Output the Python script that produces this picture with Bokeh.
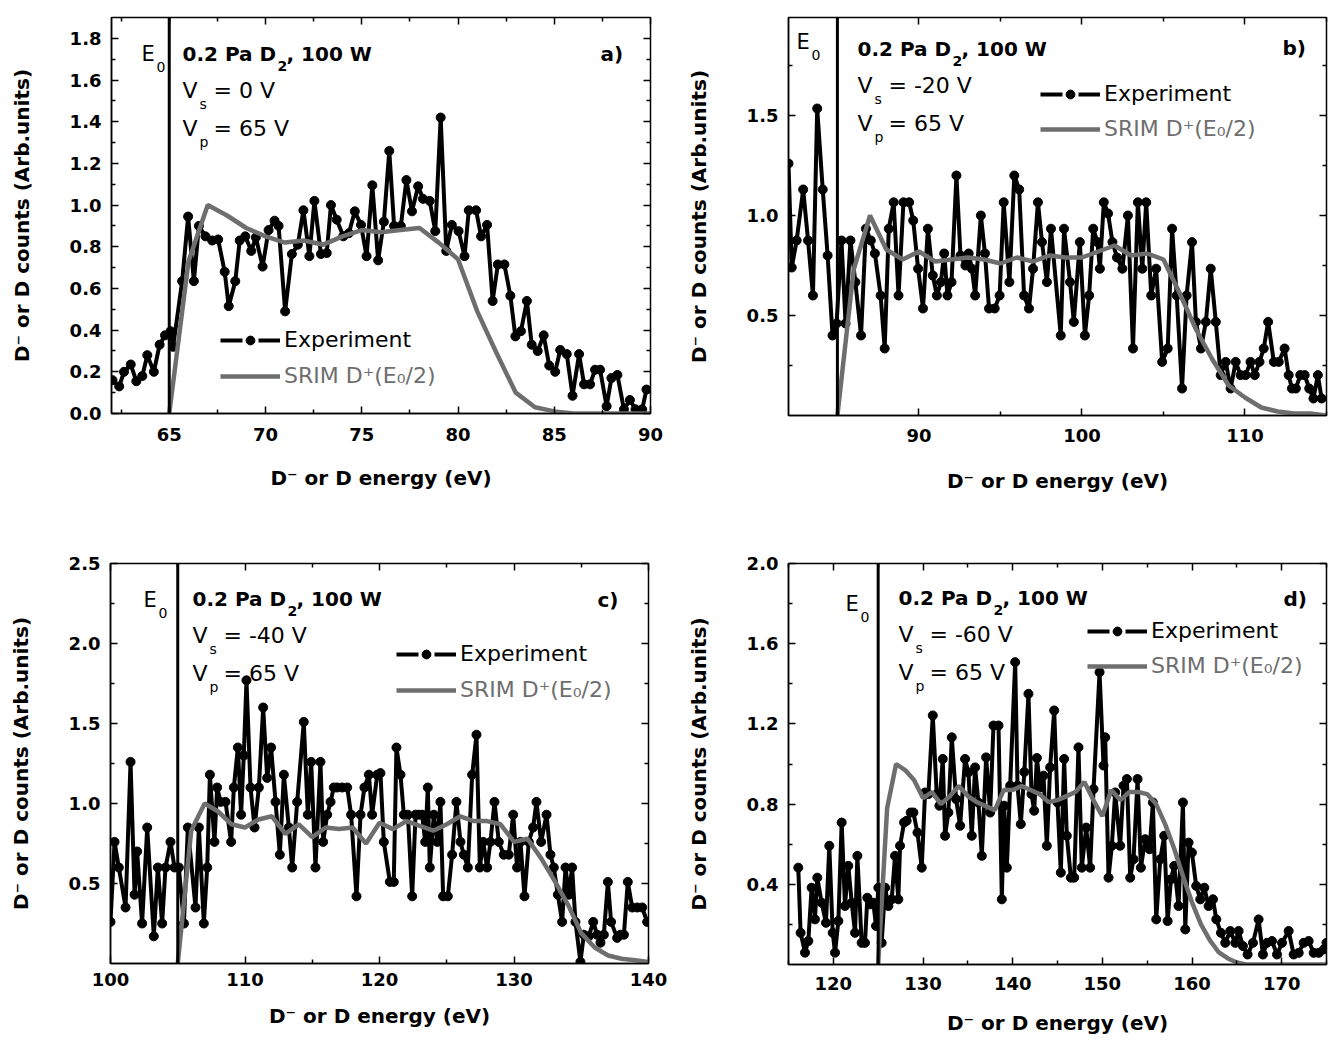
from bokeh.plotting import figure
from bokeh.models import (Range1d, FixedTicker, PrintfTickFormatter, LinearAxis,
                          Span, Label, Legend, LegendItem)
from bokeh.layouts import row, column
from bokeh.embed import file_html
from bokeh.resources import INLINE

FONT = "DejaVu Sans"
GREY = "#6e6e6e"
NAN = float("nan")

# ---------------- data ----------------
E0 = [65, 85, 105, 125]

a_exp_x = [62.05, 62.4, 62.65, 63.0, 63.29, 63.6, 63.86, 64.2, 64.5, 64.78,
           65.07, 65.2, 65.67, 65.98, 66.28, 66.54, 66.88, 67.23, 67.54, 67.88,
           68.09, 68.43, 68.66, 68.95, 69.26, 69.5, 69.85, 70.16, 70.47, 70.68,
           71.02, 71.37, 71.68, 71.97, 72.28, 72.54, 72.88, 73.18, 73.4, 73.7,
           74.04, 74.33, 74.64, 74.96, 75.25, 75.55, 75.85, 76.15, 76.43, 76.68,
           77.03, 77.32, 77.61, 77.93, 78.18, 78.53, 78.82, 79.1, 79.39, 79.68,
           80.03, 80.34, 80.56, 80.94, 81.2, 81.51, 81.8, 82.07, 82.41, 82.72,
           82.98, 83.27, 83.58, 83.83, 84.14, 84.45, 84.74, 85.05, 85.31, 85.65,
           85.95, 86.29, 86.55, 86.86, 87.12, 87.38, 87.72, 87.97, 88.28, 88.62,
           88.93, 89.22, 89.57, 89.79]
a_exp_y = [0.16, 0.13, 0.20, 0.235, 0.155, 0.18, 0.28, 0.20, 0.33, 0.375,
           0.395, 0.32, 0.635, 0.945, 0.635, 0.90, 0.85, 0.83, 0.835, 0.68,
           0.515, 0.635, 0.83, 0.85, 0.78, 0.845, 0.705, 0.88, 0.925, 0.90,
           0.49, 0.765, 0.81, 0.975, 0.755, 1.02, 0.765, 0.77, 1.0, 0.93,
           0.85, 0.865, 0.97, 0.905, 0.755, 1.095, 0.735, 0.92, 1.26, 0.90,
           0.90, 1.12, 0.97, 1.09, 1.03, 1.02, 0.875, 1.42, 0.78, 0.905,
           0.875, 0.755, 0.975, 0.975, 0.85, 0.905, 0.54, 0.715, 0.715, 0.565,
           0.37, 0.395, 0.54, 0.33, 0.30, 0.375, 0.23, 0.20, 0.305, 0.285,
           0.085, 0.285, 0.14, 0.14, 0.21, 0.21, 0.035, 0.17, 0.185, 0.02,
           0.065, 0.02, 0.02, 0.115]
a_srim_x = [65, 66, 67, 68, 69, 70, 71, 72, 73, 74, 75, 76, 77, 78, 79, 80,
            81, 82, 83, 84, 85, 86, 87, 88, 89, 90]
a_srim_y = [0.0, 0.73, 1.0, 0.95, 0.89, 0.85, 0.82, 0.83, 0.81, 0.85, 0.88, 0.87,
            0.88, 0.89, 0.82, 0.74, 0.49, 0.29, 0.10, 0.03, 0.01, 0.0, 0.0, 0.0,
            0.0, 0.0]

b_exp_x = [82.0, 82.2, 82.5, 82.9, 83.2, 83.5, 83.76, 84.1, 84.4, 84.7,
           84.95, 85.25, 85.5, 85.8, 86.1, 86.45, 86.75, 87.05, 87.3, 87.65,
           87.9, 88.15, 88.45, 88.75, 89.05, 89.4, 89.65, 89.95, 90.25, 90.55,
           90.85, 91.1, 91.35, 91.55, 91.75, 92.0, 92.3, 92.55, 92.85, 93.05,
           93.25, 93.45, 93.8, 94.05, 94.3, 94.65, 94.95, 95.2, 95.55, 95.85,
           96.15, 96.45, 96.75, 97.0, 97.3, 97.55, 97.85, 98.1, 98.7, 98.9,
           99.27, 99.5, 99.87, 100.18, 100.44, 100.69, 100.95, 101.1, 101.34, 101.6,
           101.87, 102.15, 102.48, 102.82, 103.13, 103.43, 103.7, 103.94, 104.25, 104.55,
           104.92, 105.26, 105.53, 105.81, 106.14, 106.42, 106.75, 106.99, 107.3, 107.6,
           107.9, 108.21, 108.51, 108.82, 109.12, 109.43, 109.73, 110.04, 110.34, 110.6,
           110.89, 111.15, 111.42, 111.77, 112.07, 112.43, 112.68, 112.88, 113.12, 113.39,
           113.66, 113.94, 114.2, 114.47, 114.7]
b_exp_y = [1.26, 0.74, 0.875, 1.13, 0.875, 0.60, 1.535, 1.13, 0.80, 0.40,
           0.46, 0.875, 0.46, 0.875, 0.667, 0.40, 0.934, 0.875, 0.81, 0.60,
           0.335, 0.934, 1.066, 0.60, 1.066, 1.066, 0.975, 0.734, 0.535, 0.934,
           0.70, 0.60, 0.667, 0.81, 0.60, 0.667, 1.20, 0.80, 0.75, 0.81,
           0.734, 0.60, 1.0, 0.81, 0.535, 0.535, 0.60, 1.066, 0.667, 1.20,
           1.13, 0.60, 0.535, 0.734, 1.066, 0.867, 0.667, 0.934, 0.40, 0.934,
           0.667, 0.468, 0.867, 0.40, 0.60, 0.934, 0.867, 0.734, 1.066, 1.01,
           0.867, 0.79, 0.734, 1.0, 0.335, 1.066, 0.734, 1.066, 0.60, 0.734,
           0.268, 0.335, 0.934, 0.60, 0.135, 0.60, 0.867, 0.468, 0.335, 0.468,
           0.734, 0.468, 0.202, 0.268, 0.135, 0.268, 0.202, 0.202, 0.268, 0.202,
           0.268, 0.335, 0.468, 0.268, 0.268, 0.335, 0.202, 0.135, 0.135, 0.202,
           0.202, 0.135, 0.085, 0.202, 0.085]
b_srim_x = [85, 86, 87, 88, 89, 90, 91, 92, 93, 94, 95, 96, 97, 98, 99, 100,
            101, 102, 103, 104, 105, 106, 107, 108, 109, 110, 111, 112, 113, 114, 115]
b_srim_y = [0.0, 0.73, 1.0, 0.83, 0.78, 0.82, 0.77, 0.78, 0.79, 0.78, 0.76, 0.79,
            0.77, 0.80, 0.79, 0.79, 0.82, 0.85, 0.80, 0.81, 0.78, 0.61, 0.43, 0.28,
            0.15, 0.09, 0.04, 0.02, 0.01, 0.01, 0.0]

c_exp_x = [100.0, 100.3, 100.62, 101.12, 101.49, 101.79, 101.98, 102.35, 102.73, 103.22,
           103.52, 103.84, 104.09, 104.46, 104.76, 105.08, 105.46, 105.75, 106.32, 106.57,
           106.94, 107.19, 107.39, 107.73, 107.93, 108.18, 108.55, 108.97, 109.17, 109.47,
           109.71, 109.91, 110.11, 110.41, 110.71, 111.03, 111.35, 111.65, 111.94, 112.27,
           112.59, 112.89, 113.26, 113.51, 113.88, 114.37, 114.67, 114.92, 115.24, 115.61,
           115.81, 116.11, 116.36, 116.6, 116.85, 117.22, 117.6, 117.89, 118.29, 118.59,
           118.88, 119.21, 119.45, 119.83, 120.07, 120.32, 120.77, 121.06, 121.26, 121.56,
           121.81, 122.11, 122.43, 122.68, 122.92, 123.17, 123.4, 123.59, 123.74, 124.04,
           124.3, 124.53, 124.73, 125.08, 125.4, 125.72, 126.02, 126.27, 126.57, 126.89,
           127.21, 127.46, 127.71, 128.0, 128.25, 128.55, 128.87, 129.24, 129.61, 129.94,
           130.23, 130.48, 130.78, 131.1, 131.42, 131.67, 132.02, 132.42, 132.71, 132.96,
           133.26, 133.58, 133.83, 134.08, 134.32, 134.57, 134.94, 135.19, 135.56, 135.89,
           136.18, 136.43, 136.68, 136.98, 137.22, 137.67, 137.92, 138.17, 138.46, 138.79,
           139.16, 139.53, 139.9]
c_exp_y = [0.26, 0.76, 0.60, 0.35, 1.26, 0.43, 0.70, 0.25, 0.85, 0.17,
           0.60, 0.25, 0.60, 0.76, 0.60, 0.60, 0.25, 0.85, 0.35, 0.85,
           0.25, 0.60, 1.18, 0.76, 1.10, 1.01, 1.01, 0.76, 1.10, 1.35,
           0.93, 1.30, 1.77, 1.10, 0.85, 1.10, 1.60, 1.16, 1.35, 1.01,
           0.68, 1.18, 0.85, 0.60, 1.01, 1.51, 0.93, 1.26, 0.60, 1.26,
           0.76, 0.93, 1.01, 1.10, 1.10, 1.10, 1.10, 0.93, 0.42, 0.93,
           1.10, 1.18, 0.93, 1.18, 1.19, 0.76, 0.51, 0.51, 1.35, 1.18,
           0.93, 0.93, 0.42, 0.93, 0.93, 0.93, 0.76, 1.10, 0.60, 0.93,
           0.76, 1.01, 0.42, 0.42, 0.68, 1.01, 0.76, 0.68, 0.60, 1.18,
           1.43, 0.60, 0.76, 0.60, 0.76, 1.01, 0.76, 0.68, 0.68, 0.93,
           0.60, 0.76, 0.42, 0.76, 0.85, 1.01, 0.76, 0.93, 0.68, 0.60,
           0.43, 0.26, 0.60, 0.43, 0.60, 0.26, 0.01, 0.18, 0.17, 0.26,
           0.18, 0.13, 0.18, 0.51, 0.26, 0.16, 0.18, 0.18, 0.51, 0.35,
           0.35, 0.35, 0.26]
c_srim_x = [105, 106, 107, 108, 109, 110, 111, 112, 113, 114, 115, 116, 117, 118,
            119, 120, 121, 122, 123, 124, 125, 126, 127, 128, 129, 130, 131, 132,
            133, 134, 135, 136, 137, 138, 139, 140]
c_srim_y = [0.0, 0.83, 1.0, 0.95, 0.87, 0.85, 0.90, 0.92, 0.81, 0.87, 0.79, 0.85,
            0.84, 0.85, 0.75, 0.88, 0.84, 0.89, 0.86, 0.83, 0.87, 0.92, 0.89, 0.89,
            0.87, 0.76, 0.78, 0.66, 0.52, 0.37, 0.19, 0.10, 0.05, 0.03, 0.02, 0.01]

d_exp_x = [116.09, 116.35, 116.84, 117.21, 117.58, 117.95, 118.21, 118.7, 119.18, 119.55,
           119.93, 120.19, 120.56, 120.93, 121.3, 121.67, 122.05, 122.42, 122.68, 123.16,
           123.53, 123.79, 124.1, 124.46, 124.76, 125.02, 125.39, 125.77, 126.14, 126.51,
           126.88, 127.25, 127.44, 127.89, 128.18, 128.63, 128.93, 129.38, 129.86, 130.23,
           130.6, 131.09, 131.53, 131.83, 132.2, 132.46, 132.83, 133.21, 133.69, 134.14,
           134.69, 135.07, 135.44, 135.81, 136.18, 136.56, 137.04, 137.49, 137.86, 138.42,
           138.79, 139.05, 139.35, 139.72, 140.28, 140.54, 140.91, 141.3, 141.76, 142.1,
           142.4, 142.7, 143.07, 143.44, 143.81, 144.18, 144.63, 145.0, 145.37, 145.74,
           146.04, 146.49, 146.86, 147.34, 147.71, 148.2, 148.64, 149.02, 149.69, 150.13,
           150.32, 150.69, 151.06, 151.43, 151.99, 152.36, 152.74, 153.11, 153.48, 153.93,
           154.3, 154.78, 155.27, 155.64, 156.01, 156.46, 156.9, 157.28, 157.65, 158.02,
           158.5, 158.99, 159.25, 159.62, 159.99, 160.47, 160.92, 161.37, 161.85, 162.34,
           162.71, 163.23, 163.71, 164.27, 164.83, 165.2, 165.68, 166.2, 166.8, 167.43,
           167.91, 168.36, 168.92, 169.48, 170.04, 170.78, 171.34, 171.9, 172.45, 173.01,
           173.57, 174.13, 174.69, 175.0]
d_exp_y = [0.483, 0.158, 0.059, 0.117, 0.383, 0.225, 0.433, 0.308, 0.208, 0.592,
           0.158, 0.059, 0.217, 0.708, 0.292, 0.492, 0.308, 0.158, 0.542, 0.108,
           0.108, 0.333, 0.30, 0.308, 0.192, 0.383, 0.108, 0.383, 0.292, 0.325,
           0.542, 0.325, 0.592, 0.708, 0.717, 0.758, 0.758, 0.658, 0.483, 0.858,
           0.85, 1.242, 0.85, 0.792, 1.025, 0.642, 0.758, 1.133, 0.825, 0.692,
           1.025, 0.958, 0.642, 0.983, 0.808, 0.542, 1.033, 0.758, 1.192, 1.192,
           0.325, 0.792, 0.483, 0.892, 1.508, 0.892, 0.70, 0.96, 1.35, 0.85,
           0.767, 1.03, 0.883, 0.942, 0.592, 0.983, 1.267, 0.808, 0.458, 1.025,
           0.642, 0.433, 0.433, 1.083, 0.483, 0.683, 0.483, 0.875, 1.458, 0.992,
           1.133, 0.433, 0.592, 0.858, 0.592, 0.892, 0.925, 0.433, 0.525, 0.925,
           0.483, 0.625, 0.575, 0.808, 0.225, 0.525, 0.642, 0.217, 0.425, 0.492,
           0.292, 0.808, 0.175, 0.608, 0.558, 0.392, 0.325, 0.383, 0.292, 0.325,
           0.225, 0.158, 0.108, 0.167, 0.108, 0.167, 0.092, 0.05, 0.108, 0.225,
           0.05, 0.108, 0.117, 0.05, 0.108, 0.167, 0.05, 0.058, 0.108, 0.117,
           0.058, 0.058, 0.075, 0.108]
d_srim_x = [125, 126, 127, 128, 129, 130, 131, 132, 133, 134, 135, 136, 137, 138,
            139, 140, 141, 142, 143, 144, 145, 146, 147, 148, 149, 150, 151, 152,
            153, 154, 155, 156, 157, 158, 159, 160, 161, 162, 163, 164, 165, 166,
            167, 168, 169, 170, 171, 172, 173, 174, 175]
d_srim_y = [0.0, 0.78, 1.0, 0.97, 0.92, 0.83, 0.86, 0.80, 0.84, 0.89, 0.84, 0.81,
            0.79, 0.77, 0.87, 0.87, 0.89, 0.87, 0.85, 0.81, 0.82, 0.84, 0.86, 0.91,
            0.82, 0.74, 0.87, 0.82, 0.86, 0.86, 0.85, 0.80, 0.70, 0.58, 0.44, 0.31,
            0.20, 0.12, 0.06, 0.03, 0.01, 0.0, 0.0, 0.0, 0.0, 0.0, 0.0, 0.0, 0.0,
            0.0, 0.0]

# ticks
a_xticks = [65, 70, 75, 80, 85, 90]
a_xminor = [62.5, 67.5, 72.5, 77.5, 82.5, 87.5]
a_yticks = [0.0, 0.2, 0.4, 0.6, 0.8, 1.0, 1.2, 1.4, 1.6, 1.8]
a_yminor = [0.1, 0.3, 0.5, 0.7, 0.9, 1.1, 1.3, 1.5, 1.7]
b_xticks = [90, 100, 110]
b_xminor = [85, 95, 105, 115]
b_yticks = [0.5, 1.0, 1.5]
b_yminor = [0.25, 0.75, 1.25, 1.75]
c_xticks = [100, 110, 120, 130, 140]
c_xminor = [105, 115, 125, 135]
c_yticks = [0.5, 1.0, 1.5, 2.0, 2.5]
c_yminor = [0.25, 0.75, 1.25, 1.75, 2.25]
d_xticks = [120, 130, 140, 150, 160, 170]
d_xminor = [115, 125, 135, 145, 155, 165, 175]
d_yticks = [0.4, 0.8, 1.2, 1.6, 2.0]
d_yminor = [0.2, 0.6, 1.0, 1.4, 1.8]

YLABEL = "D\u207b or D counts (Arb.units)"
XLABEL = "D\u207b or D energy (eV)"
EXP_LABEL = "Experiment"
SRIM_LABEL = "SRIM D\u207a(E\u2080/2)"


def to_data(g, px, py):
    x = g["x0"] + (px - g["fl"]) / g["fw"] * (g["x1"] - g["x0"])
    y = g["y1"] - (py - g["ft"]) / g["fh"] * (g["y1"] - g["y0"])
    return x, y


def make_panel(g, ex, ey, sx, sy, e0, xt, xmt, yt, ymt, xfmt, yfmt,
               vs_text, tag, leg, xstand, xlabstand):
    p = figure(frame_width=g["fw"], frame_height=g["fh"],
               x_range=Range1d(g["x0"], g["x1"]), y_range=Range1d(g["y0"], g["y1"]),
               min_border_left=g["fl"] - g["left"], min_border_right=g["br"],
               min_border_top=g["ft"] - g["top"], min_border_bottom=g["bb"],
               output_backend="svg", toolbar_location=None)
    p.xgrid.grid_line_color = None
    p.ygrid.grid_line_color = None
    p.outline_line_color = "black"
    p.outline_line_width = 1.5
    p.outline_line_alpha = 1.0
    p.background_fill_color = "white"
    p.border_fill_color = "white"

    xtk = FixedTicker(ticks=xt, minor_ticks=xmt)
    ytk = FixedTicker(ticks=yt, minor_ticks=ymt)
    xa = p.xaxis[0]
    ya = p.yaxis[0]
    xa.ticker = xtk
    ya.ticker = ytk
    xa.formatter = PrintfTickFormatter(format=xfmt)
    ya.formatter = PrintfTickFormatter(format=yfmt)
    xa.axis_label = XLABEL
    ya.axis_label = YLABEL
    for ax in (xa, ya):
        ax.major_tick_in = 7
        ax.major_tick_out = 0
        ax.minor_tick_in = 4
        ax.minor_tick_out = 0
        ax.major_tick_line_width = 1.5
        ax.minor_tick_line_width = 1.5
        ax.axis_line_width = 1.5
        ax.major_label_text_font = FONT
        ax.major_label_text_font_size = "18px"
        ax.major_label_text_font_style = "bold"
        ax.major_label_text_color = "black"
        ax.axis_label_text_font = FONT
        ax.axis_label_text_font_size = "20px"
        ax.axis_label_text_font_style = "bold"
        ax.axis_label_text_color = "black"
    xa.major_label_standoff = xstand
    xa.axis_label_standoff = xlabstand
    ya.major_label_standoff = 10
    ya.axis_label_standoff = 33

    for place, tk in (("above", xtk), ("right", ytk)):
        ax = LinearAxis(ticker=tk, major_tick_in=7, major_tick_out=0,
                        minor_tick_in=4, minor_tick_out=0,
                        major_tick_line_width=1.5, minor_tick_line_width=1.5,
                        axis_line_color=None, major_label_text_font_size="1px",
                        major_label_text_color=None, major_label_standoff=0)
        p.add_layout(ax, place)

    # data
    p.line(ex, ey, line_color="black", line_width=4)
    p.scatter(ex, ey, marker="circle", size=9, fill_color="black", line_color="black")
    p.line(sx, sy, line_color=GREY, line_width=4.5)
    p.add_layout(Span(location=e0, dimension="height", line_color="black", line_width=3))

    # annotations (page pixel positions -> data coords)
    def lab(px, py, text, size, bold=False, color="black"):
        x, y = to_data(g, px, py)
        p.add_layout(Label(x=x, y=y, text=text, text_font=FONT,
                           text_font_size=f"{size}px",
                           text_font_style="bold" if bold else "normal",
                           text_color=color, text_baseline="middle", text_align="left"))

    ox, oy = g["ann"]
    ex0, ey0 = g["e0lab"]
    lab(ex0, ey0, "E", 21)
    lab(ex0 + 15, ey0 + 13, "0", 14)
    lab(ox, oy, "0.2 Pa D", 20, True)
    lab(ox + 95, oy + 12, "2", 14, True)
    lab(ox + 104, oy, ", 100 W", 20, True)
    lab(ox, oy + 37, "V", 22)
    lab(ox + 17, oy + 50, "s", 14)
    lab(ox + 31, oy + 37, vs_text, 22)
    lab(ox, oy + 75, "V", 22)
    lab(ox + 17, oy + 88, "p", 14)
    lab(ox + 31, oy + 75, "= 65 V", 22)
    tx, ty = g["tag"]
    lab(tx, ty, tag, 20, True)

    # legend (legend-only renderers hold a single NaN point)
    l_exp = p.line([NAN], [NAN], line_color="black", line_width=4, line_dash="22 16")
    d_exp = p.scatter([NAN], [NAN], marker="circle", fill_color="black", line_color="black")
    l_srim = p.line([NAN], [NAN], line_color=GREY, line_width=4.5)
    gx, gy1, gy2 = leg
    fb = g["ft"] + g["fh"]
    for item, cy, col in ((LegendItem(label=EXP_LABEL, renderers=[l_exp, d_exp]), gy1, "black"),
                          (LegendItem(label=SRIM_LABEL, renderers=[l_srim]), gy2, GREY)):
        L = Legend(items=[item], location=(gx - g["fl"], fb - cy - 13),
                   border_line_color=None, background_fill_alpha=0.0,
                   padding=0, margin=0, spacing=0, glyph_width=60, glyph_height=22,
                   label_height=22, label_standoff=4,
                   label_text_font=FONT, label_text_font_size="22px",
                   label_text_color=col)
        p.add_layout(L)
    return p


# page geometry: figure origin (left, top), frame left/top/size, borders
gA = dict(left=0, top=0, fl=111, ft=14, fw=539, fh=396, br=26, bb=135,
          x0=62, x1=90, y0=0.0, y1=1.9, ann=(182, 50), e0lab=(141, 50), tag=(600, 50))
gB = dict(left=676, top=0, fl=788, ft=17, fw=538, fh=398, br=4, bb=130,
          x0=82, x1=115, y0=0.0, y1=1.99, ann=(857, 48), e0lab=(796, 41), tag=(1282, 47))
gC = dict(left=0, top=545, fl=110, ft=562, fw=538, fh=400, br=28, bb=78,
          x0=100, x1=140, y0=0.0, y1=2.5, ann=(192, 597), e0lab=(143, 598), tag=(597, 598))
gD = dict(left=676, top=545, fl=788, ft=563, fw=538, fh=401, br=4, bb=76,
          x0=115, x1=175, y0=0.0, y1=2.0, ann=(898, 597), e0lab=(845, 603), tag=(1283, 598))

pA = make_panel(gA, a_exp_x, a_exp_y, a_srim_x, a_srim_y, E0[0], a_xticks, a_xminor,
                a_yticks, a_yminor, "%d", "%.1f", "= 0 V", "a)", (220, 336, 372), 14, 22)
pB = make_panel(gB, b_exp_x, b_exp_y, b_srim_x, b_srim_y, E0[1], b_xticks, b_xminor,
                b_yticks, b_yminor, "%d", "%.1f", "= -20 V", "b)", (1040, 93, 128), 13, 24)
pC = make_panel(gC, c_exp_x, c_exp_y, c_srim_x, c_srim_y, E0[2], c_xticks, c_xminor,
                c_yticks, c_yminor, "%d", "%.1f", "= -40 V", "c)", (396, 652, 688), 9, 15)
pD = make_panel(gD, d_exp_x, d_exp_y, d_srim_x, d_srim_y, E0[3], d_xticks, d_xminor,
                d_yticks, d_yminor, "%d", "%.1f", "= -60 V", "d)", (1087, 630, 665), 12, 18)

layout = column(row(pA, pB), row(pC, pD))
open("out.html", "w").write(file_html(layout, INLINE))
